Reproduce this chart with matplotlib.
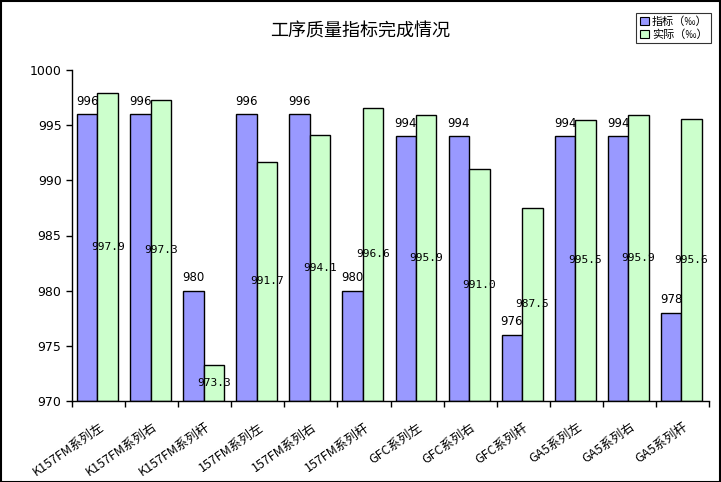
import matplotlib
matplotlib.use('Agg')
import matplotlib.pyplot as plt
from matplotlib.patches import Rectangle, Patch
import numpy as np

plt.rcParams['font.family'] = ['Noto Sans CJK SC', 'DejaVu Sans']

# Categories and values
categories = ['K157FM系列左', 'K157FM系列右', 'K157FM系列杆',
              '157FM系列左', '157FM系列右', '157FM系列杆',
              'GFC系列左', 'GFC系列右', 'GFC系列杆',
              'GA5系列左', 'GA5系列右', 'GA5系列杆']
target = [996, 996, 980, 996, 996, 980, 994, 994, 976, 994, 994, 978]
actual = [997.9, 997.3, 973.3, 991.7, 994.1, 996.6, 995.9, 991.0, 987.5, 995.5, 995.9, 995.6]
y_min, y_max = 970, 1000

fig = plt.figure(figsize=(7.21, 4.82), dpi=100)
ax = fig.add_axes([72 / 721, 1 - 401 / 482, (709 - 72) / 721, (401 - 70) / 482])

x = np.arange(len(categories))
w = 0.385
shift = -0.02
blue = '#9999FF'
green = '#CCFFCC'
xb = x - w / 2 + shift
xg = x + w / 2 + shift
ax.bar(xb, np.array(target) - y_min, w, bottom=y_min, color=blue,
       edgecolor='black', linewidth=1)
ax.bar(xg, np.array(actual) - y_min, w, bottom=y_min, color=green,
       edgecolor='black', linewidth=1)

# value labels
for i, v in enumerate(target):
    ax.text(xb[i], v + 0.6, f'{v}', ha='center', va='bottom', fontsize=8.5,
            family=['DejaVu Sans'])
for i, v in enumerate(actual):
    ax.text(xg[i], (v + y_min) / 2, f'{v:.1f}', ha='center', va='center',
            fontsize=8, family=['DejaVu Sans Mono'])

ax.set_xlim(-0.5, len(categories) - 0.5)
ax.set_ylim(y_min, y_max)
ax.set_yticks(np.arange(970, 1001, 5))
ax.tick_params(axis='y', direction='out', length=4, labelsize=9, width=1)
ax.set_xticks(x)
ax.set_xticklabels(categories, rotation=35, ha='right', rotation_mode='anchor',
                   fontsize=9)
ax.tick_params(axis='x', length=0, pad=14)
ax.set_xticks(np.arange(-0.5, len(categories), 1), minor=True)
ax.tick_params(axis='x', which='minor', direction='out', length=4, width=1)
for lab in ax.get_yticklabels():
    lab.set_family(['DejaVu Sans'])

ax.spines['top'].set_visible(False)
ax.spines['right'].set_visible(False)
ax.spines['left'].set_linewidth(1)
ax.spines['bottom'].set_linewidth(1)

fig.text(0.5, 1 - 32 / 482, '工序质量指标完成情况', ha='center', va='center', fontsize=13)

handles = [Patch(facecolor=blue, edgecolor='black', linewidth=0.8),
           Patch(facecolor=green, edgecolor='black', linewidth=0.8)]
leg = fig.legend(handles, ['指标（‰）', '实际（‰）'], loc='upper right',
                 bbox_to_anchor=(711 / 721, 1 - 13 / 482), fontsize=8,
                 frameon=True, fancybox=False, handlelength=0.8, handleheight=0.8,
                 handletextpad=0.3, borderpad=0.3, labelspacing=0.2, borderaxespad=0)
leg.get_frame().set_edgecolor('black')
leg.get_frame().set_linewidth(0.8)

fig.patches.append(Rectangle((0.001, 0.001), 0.997, 0.997, transform=fig.transFigure,
                             fill=False, edgecolor='black', linewidth=1.5))

fig.savefig('out.png', dpi=100)
